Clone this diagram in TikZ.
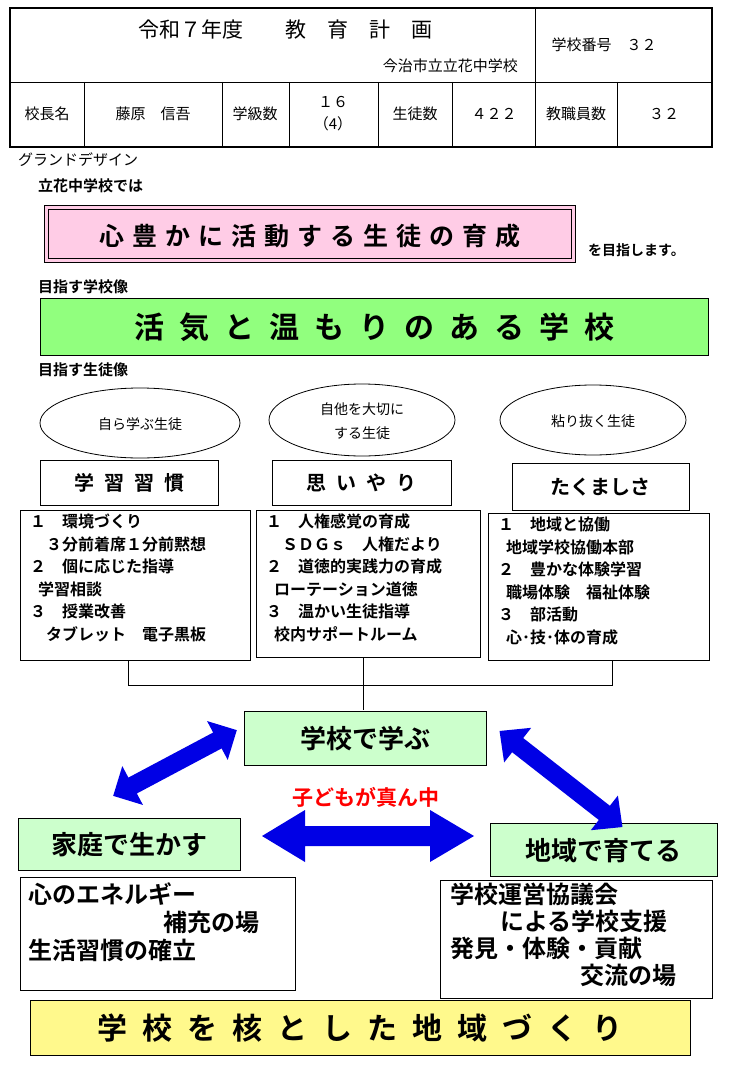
\documentclass[tikz,border=0pt]{standalone}
\usepackage{fontspec}
\setmainfont{Noto Sans CJK JP}
\newfontfamily\jb{Noto Sans CJK JP Bold}
\definecolor{pinkf}{HTML}{FFCCE6}
\begin{document}
\begin{tikzpicture}[x=1pt,y=-1pt,
  bx/.style={draw,line width=0.8pt},
  t/.style={inner sep=0pt,font=\fontsize{15}{17}\selectfont},
  lt/.style={inner sep=0pt,anchor=north west,align=left,font=\jb\fontsize{16}{22.5}\selectfont},
  bigt/.style={inner sep=0pt,font=\jb\fontsize{26}{30}\selectfont},
  arr/.style={fill=blue!90!black,draw=none}]
\useasboundingbox (0,0) rectangle (732,1070);
% header
\draw[line width=2.5pt] (10,8) rectangle (712,147);
\draw[line width=0.8pt] (10,82) -- (712,82) (535,8) -- (535,147);
\foreach \x in {84,222,289,378,452,617} \draw[line width=0.8pt] (\x,82) -- (\x,147);
\node[t,font=\fontsize{21}{24}\selectfont] (h1) at (285,30) {令和７年度　　教　育　計　画};
\node[t,anchor=east] (h2) at (518,66) {今治市立立花中学校};
\node[t] (h3) at (604,45) {学校番号　３２};
\node[t] (c1) at (47,114) {校長名};
\node[t] (c2) at (153,114) {藤原　信吾};
\node[t] (c3) at (255,114) {学級数};
\node[t,align=center,font=\fontsize{15}{22}\selectfont] (c4) at (333,114) {１６\\（4）};
\node[t] (c5) at (415,114) {生徒数};
\node[t] (c6) at (494,114) {４２２};
\node[t] (c7) at (576,114) {教職員数};
\node[t] (c8) at (664,114) {３２};
\node[t,anchor=west] (g) at (18,160) {グランドデザイン};
\node[t,anchor=west,font=\jb\fontsize{15}{17}\selectfont] (g2) at (38,186) {立花中学校では};
% pink
\draw[bx,fill=pinkf] (44,205) rectangle (575,262);
\draw[line width=0.6pt] (48,209) rectangle (571,258);
\node[bigt,font=\jb\fontsize{25}{28}\selectfont] (p) at (310,236) {心\hspace{8pt}豊\hspace{8pt}か\hspace{8pt}に\hspace{8pt}活\hspace{8pt}動\hspace{8pt}す\hspace{8pt}る\hspace{8pt}生\hspace{8pt}徒\hspace{8pt}の\hspace{8pt}育\hspace{8pt}成};
\node[t,anchor=west,font=\jb\fontsize{14}{16}\selectfont] (p2) at (588,250) {を目指します。};
\node[t,anchor=west,font=\jb\fontsize{15}{17}\selectfont] (g3) at (38,287) {目指す学校像};
\draw[bx,fill=green!45!white!90!lime] (40,298) rectangle (708,355);
\node[bigt,font=\jb\fontsize{30}{34}\selectfont] (s) at (374,327) {活\enspace 気\enspace と\enspace 温\enspace も\enspace り\enspace の\enspace あ\enspace る\enspace 学\enspace 校};
\node[t,anchor=west,font=\jb\fontsize{15}{17}\selectfont] (g4) at (38,370) {目指す生徒像};
% ellipses
\draw[bx] (140,423) ellipse (100 and 35);
\node[t,font=\fontsize{14}{16}\selectfont] (e1) at (140,424) {自ら学ぶ生徒};
\draw[bx] (362,420) ellipse (93 and 36);
\node[t,align=center,font=\fontsize{14}{24}\selectfont] (e2) at (362,421) {自他を大切に\\する生徒};
\draw[bx] (593,420) ellipse (93 and 35);
\node[t,font=\fontsize{14}{16}\selectfont] (e3) at (593,421) {粘り抜く生徒};
% headings
\draw[bx] (40,460) rectangle (218,505);
\node[t,font=\jb\fontsize{20}{22}\selectfont] (k1) at (129,483) {学\enspace 習\enspace 習\enspace 慣};
\draw[bx] (272,460) rectangle (451,505);
\node[t,font=\jb\fontsize{20}{22}\selectfont] (k2) at (361,483) {思\enspace い\enspace や\enspace り};
\draw[bx] (512,463) rectangle (689,510);
\node[t,font=\jb\fontsize{20}{22}\selectfont] (k3) at (600,487) {たくましさ};
% lists
\draw[bx] (20,510) rectangle (250,660);
\node[lt] (l1) at (30,514) {１　環境づくり\\\quad３分前着席１分前黙想\\２　個に応じた指導\\\enspace 学習相談\\３　授業改善\\\enspace\enspace タブレット　電子黒板};
\draw[bx] (256,510) rectangle (480,657);
\node[lt] (l2) at (266,514) {１　人権感覚の育成\\\enspace\enspace ＳＤＧｓ　人権だより\\２　道徳的実践力の育成\\\enspace ローテーション道徳\\３　温かい生徒指導\\\enspace 校内サポートルーム};
\draw[bx] (488,513) rectangle (709,660);
\node[lt] (l3) at (498,517) {１　地域と協働\\\enspace 地域学校協働本部\\２　豊かな体験学習\\\enspace 職場体験　福祉体験\\３　部活動\\\enspace 心･技･体の育成};
% connectors
\draw[line width=0.6pt] (128,660) -- (128,685) -- (612,685) -- (612,660) (363,657) -- (363,710);
% central
\draw[bx,fill=green!20] (244,711) rectangle (486,765);
\node[bigt] (m1) at (365,739) {学校で学ぶ};
\node[bigt,text=red,font=\jb\fontsize{21}{24}\selectfont] (m0) at (366,797) {子どもが真ん中};
\draw[bx,fill=green!20] (18,818) rectangle (240,870);
\node[bigt] (m2) at (129,845) {家庭で生かす};
\draw[bx,fill=green!20] (490,823) rectangle (717,876);
\node[bigt] (m3) at (603,851) {地域で育てる};
% arrows
\fill[arr] (262,836) -- (305,810) -- (305,826) -- (430,826) -- (430,810) -- (474,836) -- (430,862) -- (430,846) -- (305,846) -- (305,862) -- cycle;
\begin{scope}[shift={(175,763)},rotate=28]
\fill[arr] (-70,0) -- (-48,-22) -- (-48,-9) -- (48,-9) -- (48,-22) -- (70,0) -- (48,22) -- (48,9) -- (-48,9) -- (-48,22) -- cycle;
\end{scope}
\begin{scope}[shift={(561,779)},rotate=-38]
\fill[arr] (-78,0) -- (-55,-22) -- (-55,-9) -- (55,-9) -- (55,-22) -- (78,0) -- (55,22) -- (55,9) -- (-55,9) -- (-55,22) -- cycle;
\end{scope}
% bottom texts
\draw[bx] (20,877) rectangle (295,990);
\node[lt,font=\jb\fontsize{24}{28}\selectfont] (b1) at (28,882) {心のエネルギー\\\hspace*{135pt}補充の場\\生活習慣の確立};
\draw[bx] (440,880) rectangle (712,998);
\node[lt,font=\jb\fontsize{24}{27}\selectfont] (b2) at (450,883) {学校運営協議会\\\hspace*{50pt}による学校支援\\発見・体験・貢献\\\hspace*{130pt}交流の場};
\draw[bx,fill=yellow!45] (30,1000) rectangle (690,1055);
\node[bigt,font=\jb\fontsize{30}{34}\selectfont] (y) at (360,1028) {学\enspace 校\enspace を\enspace 核\enspace と\enspace し\enspace た\enspace 地\enspace 域\enspace づ\enspace く\enspace り};
\end{tikzpicture}
\end{document}
